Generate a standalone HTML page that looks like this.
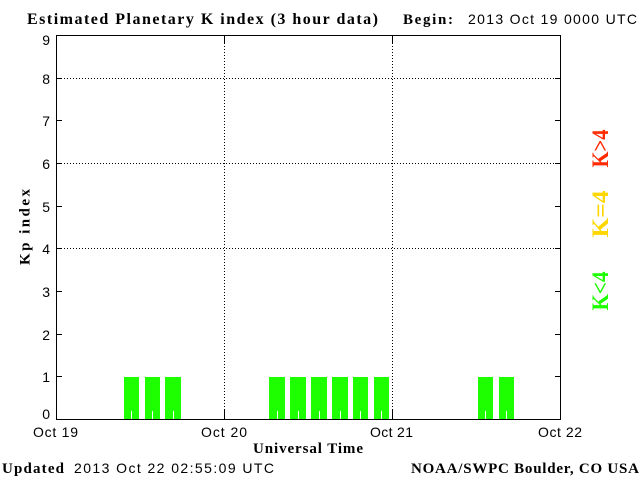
<!DOCTYPE html>
<html>
<head>
<meta charset="utf-8">
<style>
html,body{margin:0;padding:0;background:#fff;}
svg{display:block;}
.serif{font-family:"Liberation Serif",serif;font-weight:bold;}
.sans{font-family:"Liberation Sans",sans-serif;}
</style>
</head>
<body>
<svg width="640" height="480" viewBox="0 0 640 480" xmlns="http://www.w3.org/2000/svg">
<rect x="0" y="0" width="640" height="480" fill="#fff"/>

<!-- bars -->
<g fill="#1eff00" shape-rendering="crispEdges">
<rect x="124" y="377" width="15" height="42"/>
<rect x="145" y="377" width="15" height="42"/>
<rect x="165" y="377" width="16" height="42"/>
<rect x="269" y="377" width="16" height="42"/>
<rect x="290" y="377" width="16" height="42"/>
<rect x="311" y="377" width="16" height="42"/>
<rect x="332" y="377" width="16" height="42"/>
<rect x="353" y="377" width="15" height="42"/>
<rect x="374" y="377" width="15" height="42"/>
<rect x="478" y="377" width="15" height="42"/>
<rect x="499" y="377" width="15" height="42"/>
</g>
<g fill="#fff" shape-rendering="crispEdges">
<rect x="131" y="411" width="1" height="8"/>
<rect x="152" y="411" width="1" height="8"/>
<rect x="173" y="411" width="1" height="8"/>
<rect x="277" y="411" width="1" height="8"/>
<rect x="298" y="411" width="1" height="8"/>
<rect x="319" y="411" width="1" height="8"/>
<rect x="340" y="411" width="1" height="8"/>
<rect x="360" y="411" width="1" height="8"/>
<rect x="381" y="411" width="1" height="8"/>
<rect x="485" y="411" width="1" height="8"/>
<rect x="506" y="411" width="1" height="8"/>
</g>

<!-- dotted grid -->
<g stroke="#000" stroke-width="1" stroke-dasharray="1 2" shape-rendering="crispEdges">
<line x1="58" y1="78.5" x2="559" y2="78.5"/>
<line x1="58" y1="163.5" x2="559" y2="163.5"/>
<line x1="58" y1="248.5" x2="559" y2="248.5"/>
<line x1="224.5" y1="43" x2="224.5" y2="410"/>
<line x1="392.5" y1="43" x2="392.5" y2="410"/>
</g>

<!-- frame and ticks -->
<g stroke="#000" stroke-width="1" fill="none" shape-rendering="crispEdges">
<rect x="56.5" y="35.5" width="504" height="384"/>
<line x1="57" y1="376.5" x2="62" y2="376.5"/>
<line x1="57" y1="334.5" x2="62" y2="334.5"/>
<line x1="57" y1="291.5" x2="62" y2="291.5"/>
<line x1="57" y1="248.5" x2="62" y2="248.5"/>
<line x1="57" y1="206.5" x2="62" y2="206.5"/>
<line x1="57" y1="163.5" x2="62" y2="163.5"/>
<line x1="57" y1="120.5" x2="62" y2="120.5"/>
<line x1="57" y1="78.5" x2="62" y2="78.5"/>
<line x1="555" y1="376.5" x2="560" y2="376.5"/>
<line x1="555" y1="334.5" x2="560" y2="334.5"/>
<line x1="555" y1="291.5" x2="560" y2="291.5"/>
<line x1="555" y1="248.5" x2="560" y2="248.5"/>
<line x1="555" y1="206.5" x2="560" y2="206.5"/>
<line x1="555" y1="163.5" x2="560" y2="163.5"/>
<line x1="555" y1="120.5" x2="560" y2="120.5"/>
<line x1="555" y1="78.5" x2="560" y2="78.5"/>
<line x1="224.5" y1="36" x2="224.5" y2="43"/>
<line x1="392.5" y1="36" x2="392.5" y2="43"/>
<line x1="224.5" y1="410" x2="224.5" y2="419"/>
<line x1="392.5" y1="410" x2="392.5" y2="419"/>
</g>

<!-- y tick labels -->
<g class="sans" font-size="14" text-anchor="end" fill="#000">
<text x="50" y="45">9</text>
<text x="50" y="84">8</text>
<text x="50" y="126">7</text>
<text x="50" y="169">6</text>
<text x="50" y="212">5</text>
<text x="50" y="254">4</text>
<text x="50" y="297">3</text>
<text x="50" y="340">2</text>
<text x="50" y="382">1</text>
<text x="50" y="419">0</text>
</g>

<!-- x tick labels -->
<g class="sans" font-size="14" fill="#000">
<text x="33" y="437" textLength="45" lengthAdjust="spacing">Oct 19</text>
<text x="201" y="437" textLength="46" lengthAdjust="spacing">Oct 20</text>
<text x="370" y="437" textLength="43" lengthAdjust="spacing">Oct 21</text>
<text x="538" y="437" textLength="44" lengthAdjust="spacing">Oct 22</text>
</g>

<!-- titles -->
<text class="serif" x="27" y="24" font-size="16" textLength="351" lengthAdjust="spacing">Estimated Planetary K index (3 hour data)</text>
<text class="serif" x="403" y="24" font-size="15" textLength="50" lengthAdjust="spacing">Begin:</text>
<text class="sans" x="468" y="24" font-size="14" textLength="169" lengthAdjust="spacing">2013 Oct 19 0000 UTC</text>

<text class="serif" x="253" y="453" font-size="15" textLength="110" lengthAdjust="spacing">Universal Time</text>

<text class="serif" font-size="15" text-anchor="middle" transform="translate(29.5,227) rotate(-90)" textLength="76" lengthAdjust="spacing">Kp index</text>

<!-- right legend -->
<text class="serif" font-size="23" fill="#ff2a00" text-anchor="middle" transform="translate(608,148.5) rotate(-90)" textLength="38" lengthAdjust="spacingAndGlyphs">K&gt;4</text>
<text class="serif" font-size="23" fill="#ffd700" text-anchor="middle" transform="translate(608,214) rotate(-90)" textLength="47" lengthAdjust="spacingAndGlyphs">K=4</text>
<text class="serif" font-size="23" fill="#1eff00" text-anchor="middle" transform="translate(608,291) rotate(-90)" textLength="39" lengthAdjust="spacingAndGlyphs">K&lt;4</text>

<!-- footer -->
<text class="serif" x="2" y="473" font-size="15" textLength="62" lengthAdjust="spacing">Updated</text>
<text class="sans" x="74" y="473" font-size="14" textLength="200" lengthAdjust="spacing">2013 Oct 22 02:55:09 UTC</text>
<text class="serif" x="411" y="473" font-size="15" textLength="228" lengthAdjust="spacing">NOAA/SWPC Boulder, CO USA</text>
</svg>
</body>
</html>
